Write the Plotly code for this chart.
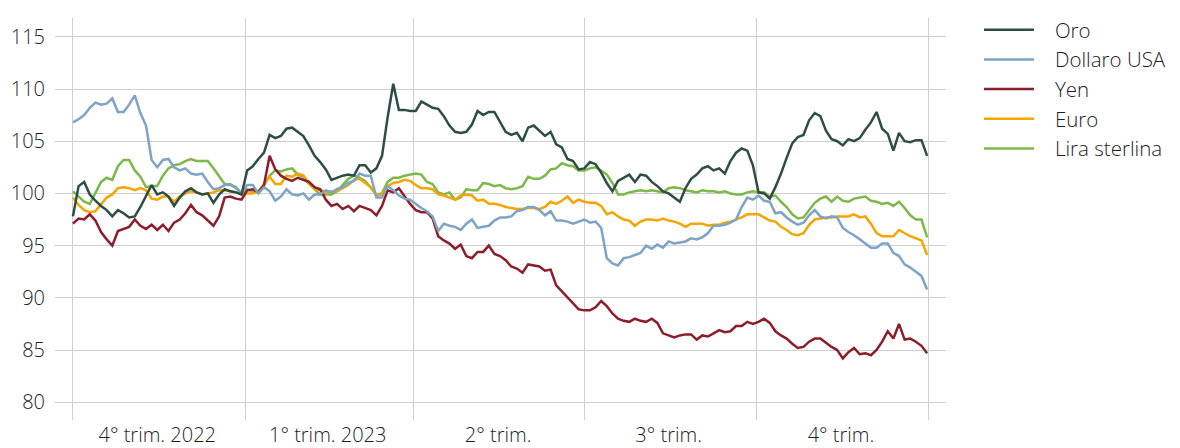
import pandas as pd
import plotly.graph_objects as go

# ---- data (index levels) ----
dates = pd.date_range("2022-10-01", periods=153, freq="3D")

oro = [97.8, 100.7, 101.1, 99.9, 99.3, 98.8, 98.4, 97.8, 98.4, 98.1,
       97.7, 97.8, 98.7, 99.8, 100.8, 99.9, 100.1, 99.7, 98.8, 99.6,
       100.2, 100.5, 100.1, 99.9, 100.0, 99.1, 99.9, 100.4, 100.2, 100.1,
       99.9, 102.2, 102.6, 103.3, 103.9, 105.6, 105.3, 105.5, 106.2, 106.3,
       105.9, 105.5, 104.6, 103.6, 103.0, 102.3, 101.3, 101.5, 101.7, 101.8,
       101.7, 102.7, 102.7, 102.0, 102.4, 103.6, 107.3, 110.5, 108.0, 108.0,
       107.9, 107.9, 108.8, 108.5, 108.2, 108.1, 107.4, 106.5, 105.9, 105.8,
       105.9, 106.6, 107.9, 107.5, 107.8, 107.8, 106.8, 105.9, 105.6, 105.8,
       105.0, 106.3, 106.5, 106.0, 105.5, 105.9, 104.7, 104.4, 103.3, 103.1,
       102.3, 102.4, 103.0, 102.8, 102.0, 101.0, 100.2, 101.2, 101.5, 101.8,
       101.1, 101.8, 101.7, 101.1, 100.7, 100.2, 100.0, 99.6, 99.2, 100.5,
       101.4, 101.8, 102.4, 102.6, 102.2, 102.4, 101.9, 103.1, 103.9, 104.3,
       104.1, 102.7, 100.1, 100.0, 99.5, 100.6, 101.9, 103.4, 104.8, 105.4,
       105.6, 107.0, 107.7, 107.4, 106.0, 105.2, 105.0, 104.6, 105.2, 105.0,
       105.3, 106.1, 106.8, 107.8, 106.2, 105.7, 104.1, 105.8, 105.0, 104.9,
       105.1, 105.1, 103.6]

dollaro = [106.8, 107.1, 107.5, 108.2, 108.7, 108.5, 108.6, 109.1, 107.8, 107.8,
           108.5, 109.4, 107.7, 106.5, 103.2, 102.5, 103.2, 103.3, 102.5, 102.2,
           102.4, 101.9, 101.8, 101.9, 101.1, 100.4, 100.5, 100.8, 100.9, 100.5,
           100.0, 100.8, 100.8, 100.0, 100.6, 100.2, 99.3, 99.7, 100.4, 99.9,
           99.8, 100.0, 99.4, 99.9, 99.9, 100.3, 100.1, 100.4, 100.6, 101.0,
           101.2, 101.9, 101.7, 101.7, 99.6, 99.6, 100.7, 100.3, 99.8, 99.5,
           99.4, 99.0, 98.6, 98.3, 97.8, 96.4, 97.1, 96.9, 96.8, 96.5,
           97.1, 97.5, 96.7, 96.8, 96.9, 97.4, 97.7, 97.7, 97.8, 98.3,
           98.4, 98.7, 98.7, 98.4, 97.9, 98.3, 97.4, 97.4, 97.3, 97.1,
           97.3, 97.5, 97.2, 97.3, 96.7, 93.8, 93.3, 93.1, 93.8, 93.9,
           94.1, 94.3, 95.0, 94.7, 95.1, 94.8, 95.4, 95.2, 95.3, 95.4,
           95.7, 95.6, 95.8, 96.2, 96.9, 96.9, 97.0, 97.2, 97.5, 98.7,
           99.6, 99.4, 99.8, 99.3, 99.2, 98.1, 98.2, 97.7, 97.3, 97.0,
           97.2, 97.9, 98.4, 97.8, 97.6, 97.8, 97.7, 96.7, 96.3, 96.0,
           95.6, 95.2, 94.8, 94.8, 95.2, 95.2, 94.3, 94.0, 93.2, 92.9,
           92.5, 92.1, 90.8]

yen = [97.1, 97.6, 97.5, 98.0, 97.4, 96.3, 95.6, 95.0, 96.4, 96.6,
       96.8, 97.5, 96.9, 96.6, 97.0, 96.5, 97.0, 96.4, 97.2, 97.5,
       98.1, 98.9, 98.2, 97.9, 97.4, 96.9, 97.8, 99.6, 99.7, 99.5,
       99.4, 100.3, 100.4, 100.1, 100.8, 103.6, 102.3, 101.7, 101.4, 101.2,
       101.5, 101.3, 101.1, 100.6, 100.4, 99.4, 98.8, 99.0, 98.5, 98.8,
       98.3, 98.8, 98.6, 98.4, 97.9, 98.8, 100.3, 100.1, 100.5, 99.7,
       99.0, 98.4, 98.2, 98.2, 97.6, 95.9, 95.5, 95.2, 94.7, 95.1,
       94.0, 93.8, 94.4, 94.4, 95.0, 94.2, 94.0, 93.6, 93.0, 92.8,
       92.4, 93.2, 93.1, 93.0, 92.6, 92.7, 91.2, 90.6, 90.0, 89.4,
       88.9, 88.8, 88.8, 89.1, 89.7, 89.2, 88.5, 88.0, 87.8, 87.7,
       88.0, 87.8, 87.7, 88.0, 87.6, 86.6, 86.4, 86.2, 86.4, 86.5,
       86.5, 86.0, 86.4, 86.3, 86.6, 86.9, 86.7, 86.8, 87.3, 87.3,
       87.7, 87.5, 87.7, 88.0, 87.6, 86.8, 86.4, 86.1, 85.6, 85.2,
       85.3, 85.8, 86.1, 86.1, 85.7, 85.3, 85.0, 84.2, 84.8, 85.2,
       84.6, 84.7, 84.5, 85.0, 85.8, 86.8, 86.1, 87.5, 86.0, 86.1,
       85.8, 85.4, 84.7]

euro = [99.6, 98.9, 98.4, 98.2, 98.3, 99.0, 99.6, 99.9, 100.5, 100.6,
        100.5, 100.3, 100.5, 100.3, 99.5, 99.4, 99.7, 99.7, 99.2, 99.7,
        100.0, 100.2, 100.1, 99.9, 100.0, 100.1, 100.3, 100.3, 100.2, 100.1,
        100.0, 100.0, 100.0, 100.2, 100.9, 101.6, 100.9, 100.9, 101.7, 101.6,
        101.9, 101.7, 101.0, 100.4, 100.3, 100.1, 100.2, 100.2, 100.5, 100.8,
        101.3, 101.4, 101.0, 100.6, 99.8, 99.9, 100.7, 101.0, 101.1, 101.3,
        101.2, 100.8, 100.5, 100.5, 100.4, 99.9, 99.8, 99.6, 99.4, 99.8,
        99.9, 99.8, 99.3, 99.4, 99.0, 99.0, 98.9, 98.7, 98.6, 98.5,
        98.5, 98.6, 98.6, 98.5, 98.7, 99.2, 99.0, 99.3, 99.7, 99.1,
        99.4, 99.2, 99.1, 99.1, 98.8, 98.0, 98.2, 97.8, 97.5, 97.4,
        96.9, 97.3, 97.5, 97.5, 97.4, 97.6, 97.4, 97.3, 97.1, 96.8,
        97.1, 97.1, 97.1, 96.9, 97.0, 97.0, 97.2, 97.3, 97.5, 97.7,
        98.0, 98.0, 98.0, 97.7, 97.4, 97.3, 96.8, 96.5, 96.1, 96.0,
        96.2, 97.0, 97.5, 97.6, 97.7, 97.7, 97.8, 97.8, 97.8, 98.0,
        97.7, 97.8, 97.1, 96.2, 95.9, 95.9, 95.9, 96.5, 96.2, 95.9,
        95.7, 95.5, 94.1]

sterlina = [100.2, 99.7, 99.2, 99.0, 100.0, 101.1, 101.5, 101.3, 102.6, 103.2,
            103.2, 102.2, 101.6, 100.6, 100.7, 100.7, 101.7, 102.4, 102.7, 102.8,
            103.1, 103.3, 103.1, 103.1, 103.1, 102.4, 101.6, 100.9, 100.8, 100.6,
            100.0, 100.4, 100.1, 100.1, 100.8, 101.7, 102.2, 102.1, 102.3, 102.4,
            101.8, 101.6, 100.9, 100.4, 99.9, 99.9, 99.9, 100.2, 100.8, 101.4,
            101.7, 101.5, 101.2, 100.6, 99.9, 100.0, 101.1, 101.5, 101.5, 101.7,
            101.8, 101.9, 101.8, 101.1, 100.9, 100.1, 99.9, 100.1, 99.4, 99.6,
            100.4, 100.3, 100.3, 101.0, 100.9, 100.7, 100.8, 100.5, 100.4, 100.5,
            100.7, 101.6, 101.4, 101.4, 101.7, 102.3, 102.4, 102.9, 102.7, 102.6,
            102.2, 102.2, 102.4, 102.5, 102.2, 101.8, 101.0, 99.9, 99.9, 100.1,
            100.2, 100.3, 100.2, 100.3, 100.2, 100.1, 100.5, 100.6, 100.5, 100.3,
            100.2, 100.1, 100.3, 100.2, 100.2, 100.1, 100.2, 100.0, 99.9, 99.9,
            100.1, 100.2, 100.1, 100.1, 99.7, 99.8, 99.2, 98.7, 98.0, 97.6,
            97.7, 98.4, 99.1, 99.5, 99.7, 99.2, 99.7, 99.3, 99.2, 99.5,
            99.6, 99.7, 99.3, 99.2, 99.0, 99.1, 98.8, 99.2, 98.6, 97.9,
            97.5, 97.5, 95.8]

series_names = ["Oro", "Dollaro USA", "Yen", "Euro", "Lira sterlina"]
series_colors = ["#2E4E45", "#7DA3C6", "#8C1D2B", "#F5A500", "#7DB84A"]

quarter_bounds = ["2022-10-01", "2023-01-01", "2023-04-01", "2023-07-01",
                  "2023-10-01", "2024-01-01"]
quarter_mids = ["2022-11-15", "2023-02-14", "2023-05-16", "2023-08-15", "2023-11-15"]
quarter_labels = ["4° trim. 2022", "1° trim. 2023", "2° trim.", "3° trim.", "4° trim."]
y_ticks = [80, 85, 90, 95, 100, 105, 110, 115]

FONT = "'Open Sans', Roboto, 'Liberation Sans', Arial, sans-serif"
GRID = "#CFCFCF"
PAD = "\u00a0\u00a0\u00a0"  # visual gap between legend line and text

fig = go.Figure()
values = [oro, dollaro, yen, euro, sterlina]
# draw gold last (on top); legend order reversed back to Oro first
for name, vals, col in reversed(list(zip(series_names, values, series_colors))):
    fig.add_trace(go.Scatter(x=dates, y=vals, name=PAD + name, mode="lines",
                             line=dict(color=col, width=2.5)))

# the page body adds an 8px offset, so the figure is 8px smaller on each axis
fig.update_layout(
    width=1172, height=440,
    margin=dict(l=47, r=234, t=2, b=28),
    paper_bgcolor="white", plot_bgcolor="white",
    font=dict(family=FONT, size=20, color="#1E1E1E", weight=300),
    showlegend=True,
    legend=dict(x=1.037, y=1.02, xanchor="left", yanchor="top",
                traceorder="reversed", font=dict(size=20.5),
                itemwidth=50, tracegroupgap=0, bgcolor="rgba(0,0,0,0)"),
    xaxis=dict(type="date", automargin=False,
               range=["2022-09-21 10:00", "2024-01-10 02:00"],
               tickmode="array", tickvals=quarter_mids, ticktext=quarter_labels,
               showgrid=False, zeroline=False, showline=False, ticks="",
               minor=dict(tickvals=quarter_bounds, showgrid=True,
                          gridcolor=GRID, gridwidth=1.3, ticks=""),
               tickfont=dict(size=20), ticklabelstandoff=1),
    yaxis=dict(range=[78.3, 116.8], tickmode="array", tickvals=y_ticks,
               automargin=False,
               showgrid=True, gridcolor=GRID, gridwidth=1.3, zeroline=False,
               showline=False, ticks="", tickfont=dict(size=20),
               ticklabelstandoff=9),
)

fig.write_html("out.html")
